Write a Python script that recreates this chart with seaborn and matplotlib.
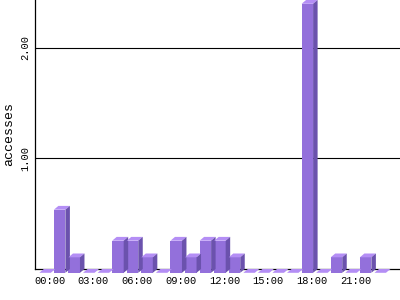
import matplotlib
matplotlib.use("Agg")
import matplotlib.pyplot as plt
from matplotlib.patches import Polygon
from matplotlib.transforms import ScaledTranslation, IdentityTransform
import seaborn as sns
import pandas as pd

# ---- data ----
hours = [f"{h:02d}:00" for h in range(24)]
accesses = [0.00, 0.57, 0.14, 0.00, 0.00, 0.29, 0.29, 0.14,
            0.00, 0.29, 0.14, 0.29, 0.29, 0.14, 0.00, 0.00,
            0.00, 0.00, 2.43, 0.00, 0.14, 0.00, 0.14, 0.00]
tick_hours = ["00:00", "03:00", "06:00", "09:00", "12:00", "15:00", "18:00", "21:00"]
y_ticks = [1.0, 2.0]

# ---- style ----
FRONT = "#9370db"
TOP = "#b48ef5"
SIDE = "#6b52ad"
DX, DY = 4.5, 3.8   # 3-D depth in pixels

sns.set_style("white")
plt.rcParams["font.family"] = ["Liberation Mono", "DejaVu Sans Mono"]

df = pd.DataFrame({"hour": hours, "accesses": accesses})

fig = plt.figure(figsize=(4, 3), dpi=100)
ax = fig.add_axes([35 / 400, 31 / 300, 365 / 400, 269 / 300])

sns.barplot(data=df, x="hour", y="accesses", order=hours, color=FRONT,
            width=0.79, saturation=1, ax=ax, edgecolor="none", linewidth=0)

ax.set_xlim(-1.0, 24.05)
ax.set_ylim(0, max(accesses))

fig.canvas.draw()
off = ScaledTranslation(-DX / 100, -DY / 100, fig.dpi_scale_trans)
for i, p in enumerate(ax.patches):
    x0, w, h = p.get_x(), p.get_width(), p.get_height()
    (bl, bb), (br, bt) = ax.transData.transform([(x0, 0), (x0 + w, h)])
    fl, fr, fb, ft = bl - DX, br - DX, bb - DY, bt - DY
    z = 3 + i * 0.01
    p.set_transform(ax.transData + off)
    p.set_clip_on(False)
    p.set_zorder(z + 0.005)
    top = Polygon([(fl, ft), (fr, ft), (br, bt), (bl, bt)], closed=True,
                  facecolor=TOP, edgecolor="none", transform=IdentityTransform(),
                  zorder=z, clip_on=False)
    side = Polygon([(fr, fb), (fr, ft), (br, bt), (br, bb)], closed=True,
                   facecolor=SIDE, edgecolor="none", transform=IdentityTransform(),
                   zorder=z, clip_on=False)
    fig.add_artist(top)
    fig.add_artist(side)

# axes decorations
for s in ["top", "right"]:
    ax.spines[s].set_visible(False)
for s in ["left", "bottom"]:
    ax.spines[s].set_color("black")
    ax.spines[s].set_linewidth(0.9)
    ax.spines[s].set_zorder(2.5)

ax.set_yticks(y_ticks)
ax.set_yticklabels([f"{v:.2f}" for v in y_ticks], rotation=90, va="center")
ax.set_xticks([hours.index(t) for t in tick_hours])
ax.set_xticklabels(tick_hours)
ax.tick_params(axis="both", length=0, labelsize=7.5, colors="black")
ax.tick_params(axis="x", pad=5)
ax.tick_params(axis="y", pad=3.5)
ax.yaxis.grid(True, color="black", linewidth=0.8)
ax.xaxis.grid(False)
ax.set_axisbelow(True)

ax.set_xlabel("")
ax.set_ylabel("accesses", fontsize=9.5, color="black")
ax.yaxis.set_label_coords(-0.055, 0.5)

fig.savefig("out.png", dpi=100)
